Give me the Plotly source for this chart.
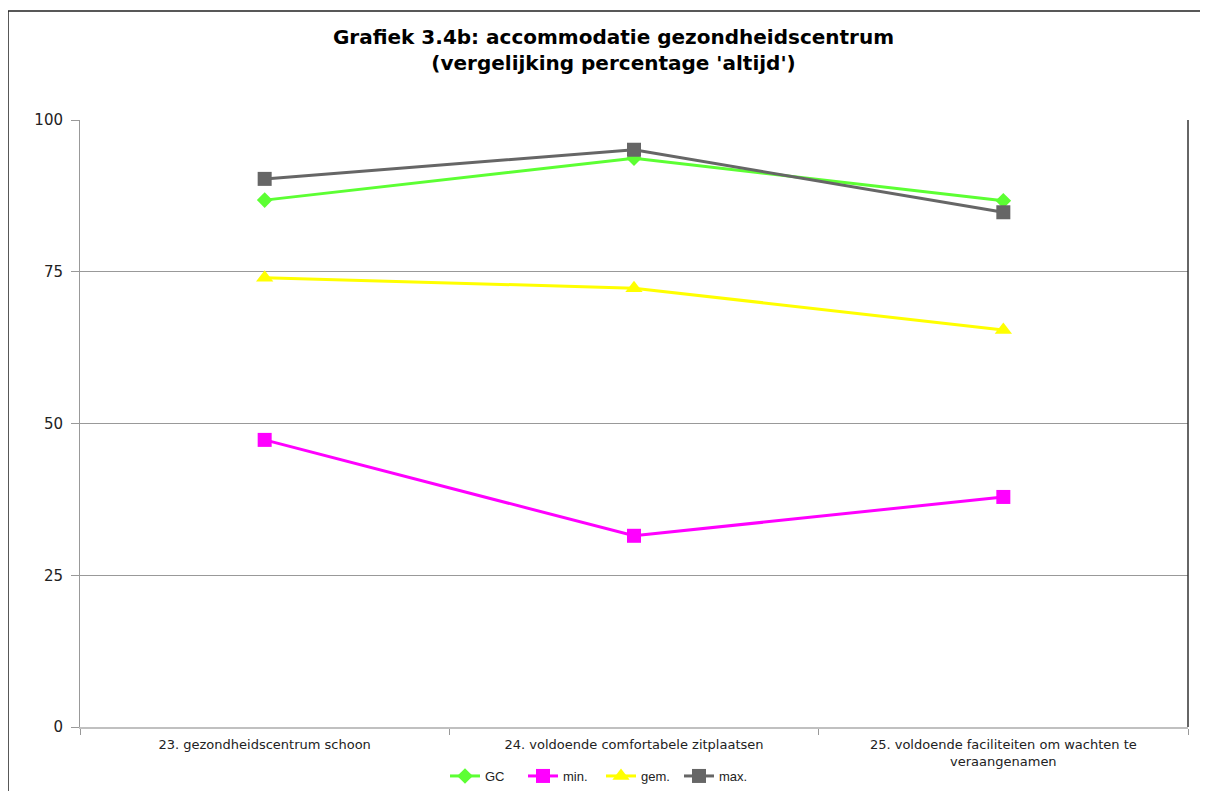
import plotly.graph_objects as go

categories = ["23. gezondheidscentrum schoon",
              "24. voldoende comfortabele zitplaatsen",
              "25. voldoende faciliteiten om wachten te<br>veraangenamen"]
gc = [86.8, 93.7, 86.7]
min_vals = [47.3, 31.5, 37.9]
gem = [74.0, 72.3, 65.4]
max_vals = [90.3, 95.1, 84.8]
y_ticks = [0, 25, 50, 75, 100]

series = [
    ("GC", gc, "#5cff33", "diamond", 12),
    ("min.", min_vals, "#ff00ff", "square", 14),
    ("gem.", gem, "#ffff00", "triangle-up", 15),
    ("max.", max_vals, "#666666", "square", 14),
]

W, H = 1200, 783
L, R, T, B = 72, 20, 112, 64
PW, PH = W - L - R, H - T - B

fig = go.Figure()
for name, vals, color, sym, size in series:
    fig.add_trace(go.Scatter(
        x=categories, y=vals, name=name, mode="lines+markers",
        line=dict(color=color, width=3),
        marker=dict(symbol=sym, size=size, color=color),
    ))

fig.update_layout(
    width=W, height=H,
    margin=dict(l=L, r=R, t=T, b=B, autoexpand=False),
    paper_bgcolor="white", plot_bgcolor="white",
    title=dict(
        text="Grafiek 3.4b: accommodatie gezondheidscentrum<br>(vergelijking percentage 'altijd')",
        x=605.5 / W, xanchor="center", y=1 - 36 / H, yanchor="top",
        font=dict(family="DejaVu Sans", size=20, color="black", weight="bold"),
    ),
    showlegend=True,
    legend=dict(orientation="h", xref="container", x=593 / W, xanchor="center",
                yref="container", y=(H - 768) / H, yanchor="middle",
                font=dict(family="Liberation Sans, Arial", size=13, color="#222"),
                entrywidth=33, entrywidthmode="pixels", tracegroupgap=0),
    xaxis=dict(
        showgrid=False, tickson="boundaries", ticks="outside", ticklen=6,
        tickcolor="#999999", showline=True, linecolor="#c0c0c0", linewidth=2,
        tickfont=dict(family="DejaVu Sans", size=13, color="#222"),
        ticklabelstandoff=4, automargin=False,
        range=[-0.5, 2.5],
    ),
    yaxis=dict(
        range=[0, 100], tickvals=y_ticks, ticks="outside", ticklen=8,
        tickcolor="#999999", showgrid=True, gridcolor="#999999", gridwidth=1,
        showline=True, linecolor="#999999", linewidth=1, zeroline=False,
        tickfont=dict(family="DejaVu Sans", size=15, color="#222"),
        ticklabelstandoff=5, automargin=False,
    ),
)

# plot area right edge (dark)
fig.add_shape(type="line", xref="paper", yref="paper", x0=1, x1=1, y0=0, y1=1,
              line=dict(color="#333333", width=1.5))
# outer chart border
fig.add_shape(type="rect", xref="paper", yref="paper",
              x0=(0 - L) / PW, x1=(1220 - L) / PW,
              y0=-(810 - (H - B)) / PH, y1=(H - B - 3) / PH,
              line=dict(color="#222222", width=1.5), layer="below")

fig.write_html("out.html")
